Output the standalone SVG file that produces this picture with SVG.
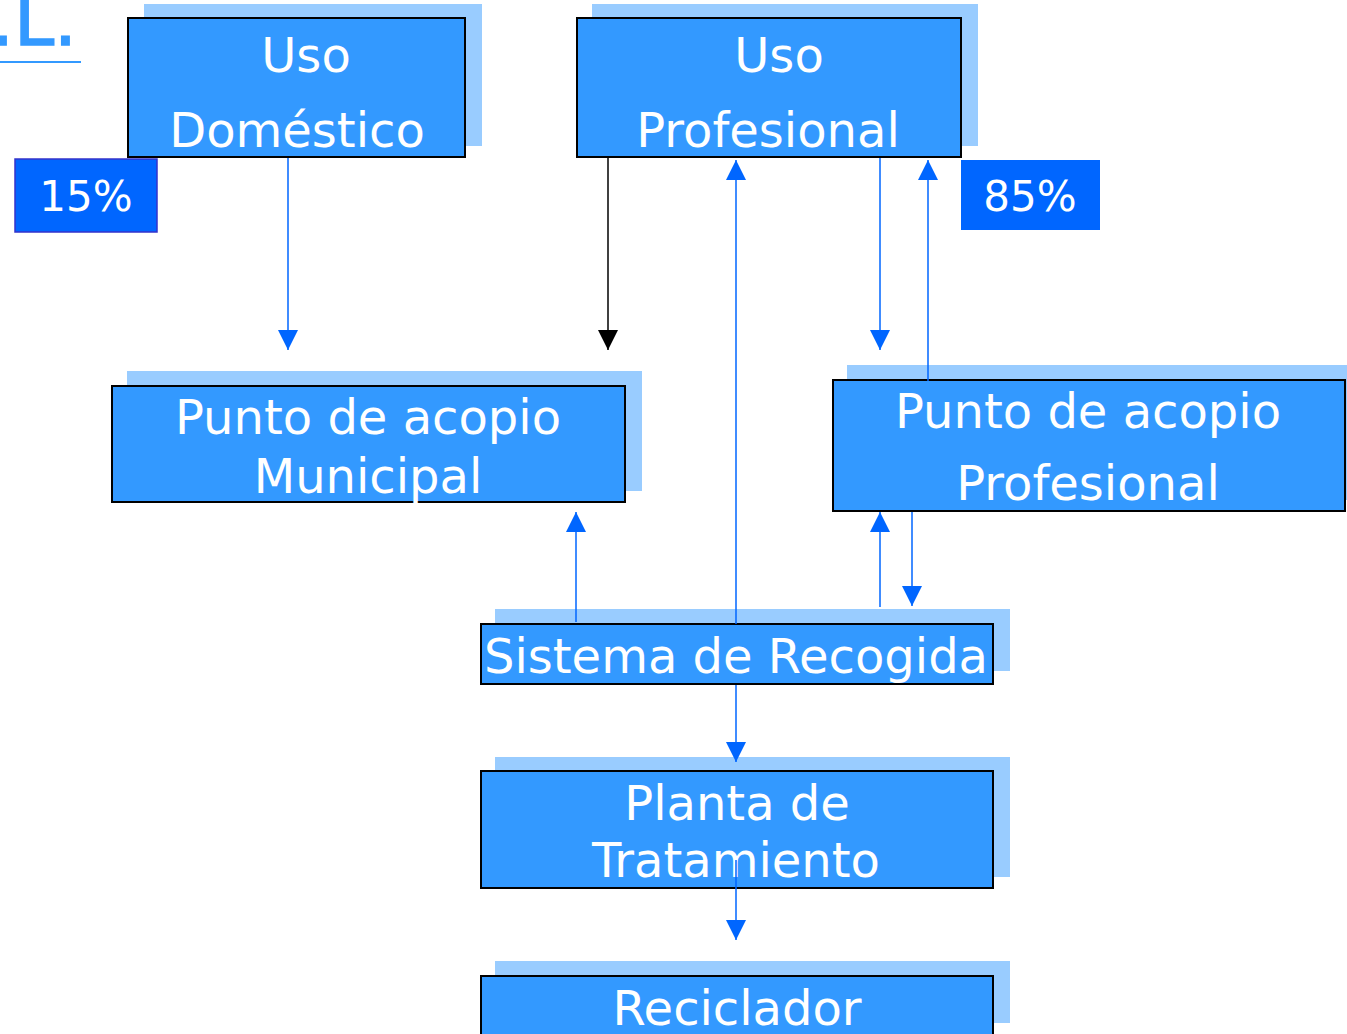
<svg xmlns="http://www.w3.org/2000/svg" width="1347" height="1034" viewBox="0 0 1347 1034">
<defs>
<style>
.sh{fill:#99CCFF;}
.bx{fill:#3399FF;stroke:#000;stroke-width:2;}
.t{font-family:"DejaVu Sans",Verdana,sans-serif;font-size:48px;fill:#fff;text-anchor:middle;}
.p{font-family:"DejaVu Sans",Verdana,sans-serif;font-size:42px;fill:#fff;text-anchor:middle;}
.c{fill:none;stroke:#0066FF;stroke-width:1.5;}
.k{fill:none;stroke:#000;stroke-width:1.5;}
</style>
<marker id="ab" viewBox="0 0 20 20" refX="20" refY="10" markerWidth="20" markerHeight="20" markerUnits="userSpaceOnUse" orient="auto"><path d="M0,0 L20,10 L0,20 Z" fill="#0066FF"/></marker>
<marker id="ak" viewBox="0 0 20 20" refX="20" refY="10" markerWidth="20" markerHeight="20" markerUnits="userSpaceOnUse" orient="auto"><path d="M0,0 L20,10 L0,20 Z" fill="#000"/></marker>
</defs>
<rect width="1347" height="1034" fill="#fff"/>
<g id="title">
<text x="-9" y="45" font-family="DejaVu Sans,Verdana,sans-serif" font-size="72" fill="#3399FF" stroke="#3399FF" stroke-width="1.5">.L.</text>
<line x1="0" y1="62" x2="81" y2="62" stroke="#3399FF" stroke-width="2"/>
</g>
<g id="n-domestico">
<rect class="sh" x="144" y="4" width="338" height="142"/>
<rect class="bx" x="128" y="18" width="337" height="139"/>
<text class="t" x="306" y="72">Uso</text>
<text class="t" x="297" y="147">Doméstico</text>
</g>
<g id="n-15">
<rect x="15" y="159" width="142" height="73" fill="#0066FF" stroke="#3333CC" stroke-width="1.5"/>
<text class="p" x="86" y="211">15%</text>
</g>
<g id="n-profesional">
<rect class="sh" x="592" y="4" width="386" height="142"/>
<rect class="bx" x="577" y="18" width="384" height="139"/>
<text class="t" x="779" y="72">Uso</text>
<text class="t" x="768" y="147">Profesional</text>
</g>
<g id="n-85">
<rect x="961" y="160" width="139" height="70" fill="#0066FF"/>
<text class="p" x="1030" y="211">85%</text>
</g>
<g id="n-municipal">
<rect class="sh" x="127" y="371" width="515" height="120"/>
<rect class="bx" x="112" y="386" width="513" height="116"/>
<text class="t" x="368" y="434">Punto de acopio</text>
<text class="t" x="368" y="493">Municipal</text>
</g>
<g id="n-acopio-prof">
<rect class="sh" x="847" y="365" width="500" height="135"/>
<rect class="bx" x="833" y="380" width="512" height="131"/>
<text class="t" x="1088" y="428">Punto de acopio</text>
<text class="t" x="1088" y="500">Profesional</text>
</g>
<g id="n-recogida">
<rect class="sh" x="495" y="609" width="515" height="62"/>
<rect class="bx" x="481" y="624" width="512" height="60"/>
<text class="t" x="736" y="673">Sistema de Recogida</text>
</g>
<g id="n-planta">
<rect class="sh" x="495" y="757" width="515" height="120"/>
<rect class="bx" x="481" y="771" width="512" height="117"/>
<text class="t" x="737" y="820">Planta de</text>
<text class="t" x="736" y="877">Tratamiento</text>
</g>
<g id="n-reciclador">
<rect class="sh" x="495" y="961" width="515" height="62"/>
<rect class="bx" x="481" y="976" width="512" height="70"/>
<text class="t" x="737" y="1025">Reciclador</text>
</g>
<g id="connectors">
<line class="c" x1="288" y1="158" x2="288" y2="350" marker-end="url(#ab)"/>
<line class="k" x1="608" y1="158" x2="608" y2="350" marker-end="url(#ak)"/>
<line class="c" x1="736" y1="624" x2="736" y2="160" marker-end="url(#ab)"/>
<line class="c" x1="880" y1="158" x2="880" y2="350" marker-end="url(#ab)"/>
<line class="c" x1="928" y1="381" x2="928" y2="160" marker-end="url(#ab)"/>
<line class="c" x1="576" y1="622" x2="576" y2="512" marker-end="url(#ab)"/>
<line class="c" x1="880" y1="607" x2="880" y2="512" marker-end="url(#ab)"/>
<line class="c" x1="912" y1="512" x2="912" y2="606" marker-end="url(#ab)"/>
<line class="c" x1="736" y1="685" x2="736" y2="762" marker-end="url(#ab)"/>
<line class="c" x1="736" y1="860" x2="736" y2="940" marker-end="url(#ab)"/>
</g>
</svg>
